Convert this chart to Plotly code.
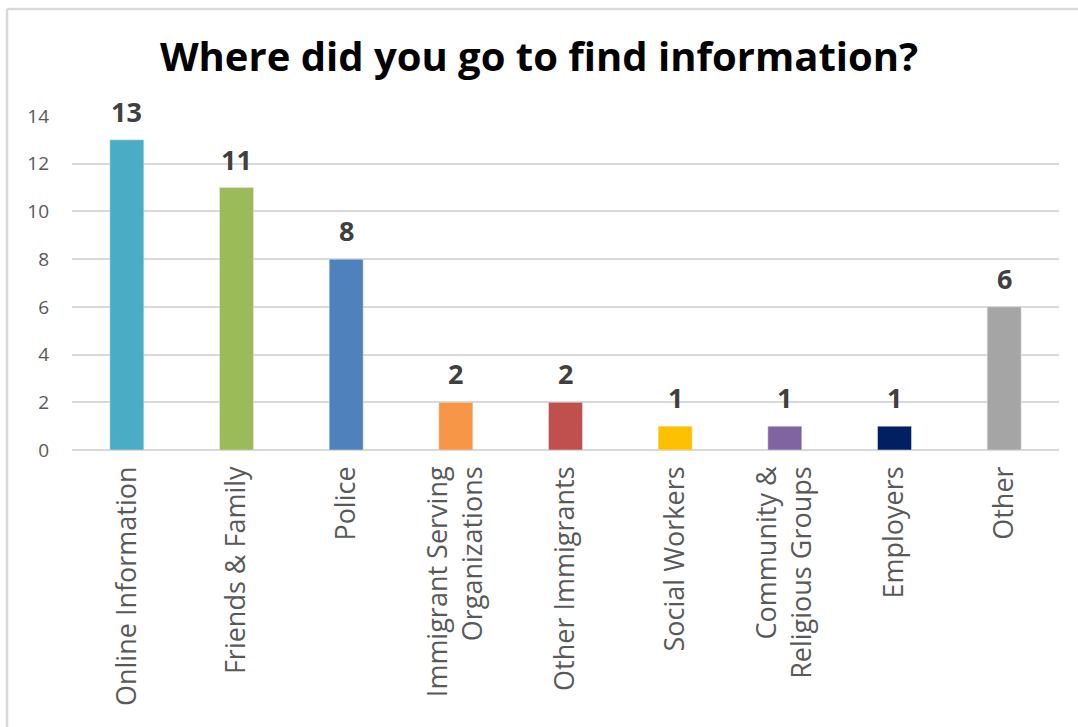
import plotly.graph_objects as go

categories = ["Online Information", "Friends & Family", "Police",
              "Immigrant Serving<br>Organizations", "Other Immigrants",
              "Social Workers", "Community &<br>Religious Groups",
              "Employers", "Other"]
values = [13, 11, 8, 2, 2, 1, 1, 1, 6]
colors = ["#4BACC6", "#9BBB59", "#4F81BD", "#F79646", "#C0504D",
          "#FFC000", "#8064A2", "#002060", "#A5A5A5"]
y_ticks = [0, 2, 4, 6, 8, 10, 12, 14]

fig = go.Figure(go.Bar(
    x=categories, y=values, marker_color=colors, width=0.31,
    cliponaxis=False, hoverinfo="x+y",
))

for c, v in zip(categories, values):
    fig.add_annotation(x=c, y=v, text=f"<b>{v}</b>", showarrow=False,
                       yanchor="bottom", yshift=8,
                       font=dict(family="Open Sans", size=27, color="#404040"))

W, H = 1078, 727
ml, mr, mt, mb = 72, 19, 116, 277
pw, ph = W - ml - mr, H - mt - mb

fig.update_layout(
    width=W, height=H,
    margin=dict(l=ml, r=mr, t=mt, b=mb),
    paper_bgcolor="white", plot_bgcolor="white",
    showlegend=False,
    title=dict(text="<b>Where did you go to find information?</b>",
               x=0.5, xanchor="center", y=1 - 57 / H, yanchor="middle",
               font=dict(family="Open Sans", size=40, color="black")),
    xaxis=dict(tickangle=-90, tickfont=dict(family="Open Sans", size=27, color="#595959"),
               showgrid=False, showline=False, ticks="", ticklabelstandoff=10),
    yaxis=dict(range=[0, 14], tickvals=y_ticks,
               tickfont=dict(family="Open Sans", size=19, color="#595959"),
               gridcolor="#D9D9D9", gridwidth=1.5, zeroline=True,
               zerolinecolor="#D9D9D9", zerolinewidth=1.5, ticklabelstandoff=22),
    shapes=[
        dict(type="line", xref="paper", yref="paper",
             x0=-(ml - 7) / pw, x1=1 + (mr + 5) / pw,
             y0=1 + (mt - 9) / ph, y1=1 + (mt - 9) / ph,
             line=dict(color="#D9D9D9", width=2.5)),
        dict(type="line", xref="paper", yref="paper",
             x0=-(ml - 7) / pw, x1=-(ml - 7) / pw,
             y0=1 + (mt - 9) / ph, y1=-(mb + 5) / ph,
             line=dict(color="#D9D9D9", width=2.5)),
    ],
)

fig.write_html("out.html")
